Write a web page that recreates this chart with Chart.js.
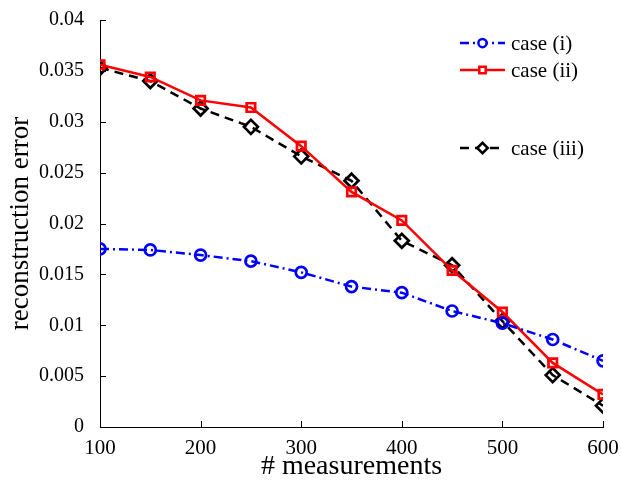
<!DOCTYPE html>
<html>
<head>
<meta charset="utf-8">
<script src="https://cdn.jsdelivr.net/npm/chart.js@4"></script>
<style>
  body { margin: 0; background: #fff; }
  #wrap { width: 621px; height: 483px; }
</style>
</head>
<body>
<div id="wrap"><canvas id="errChart" width="621" height="483"></canvas></div>
<script>
const measurements = [100, 150, 200, 250, 300, 350, 400, 450, 500, 550, 600];
const caseOne   = [0.0175, 0.0174, 0.0169, 0.0163, 0.0152, 0.0138, 0.0132, 0.0114, 0.0102, 0.0086, 0.0065];
const caseTwo   = [0.0356, 0.0344, 0.0321, 0.0314, 0.0276, 0.0231, 0.0203, 0.0154, 0.0113, 0.0063, 0.0032];
const caseThree = [0.0353, 0.0340, 0.0313, 0.0295, 0.0266, 0.0242, 0.0183, 0.0159, 0.0104, 0.0051, 0.0021];
const seriesLabels = ['case (i)', 'case (ii)', 'case (iii)'];
const legendRows = [43, 70, 148];

const serif = "'Liberation Serif', 'DejaVu Serif', serif";

function toPoints(vals) {
    return vals.map((v, i) => ({x: measurements[i], y: v}));
}

const datasets = [
    {label: seriesLabels[0], data: toPoints(caseOne), borderColor: '#0000ff', borderDash: [9, 4, 2, 4],
     pointStyle: 'circle', pointRadius: 5.5},
    {label: seriesLabels[1], data: toPoints(caseTwo), borderColor: '#ff0000', borderDash: [],
     pointStyle: 'rect', pointRadius: 6},
    {label: seriesLabels[2], data: toPoints(caseThree), borderColor: '#000000', borderDash: [9, 6],
     pointStyle: 'rectRot', pointRadius: 7}
].map(d => Object.assign(d, {
    showLine: true,
    borderWidth: 2.5,
    pointBorderColor: d.borderColor,
    pointBackgroundColor: '#ffffff00',
    pointBorderWidth: 2.7,
    fill: false,
    tension: 0
}));

// inward tick marks on left and bottom axes
const innerTicks = {
    id: 'innerTicks',
    afterDraw(chart) {
        const c = chart.ctx, xs = chart.scales.x, ys = chart.scales.y;
        c.save();
        c.strokeStyle = '#000';
        c.lineWidth = 1;
        c.beginPath();
        xs.ticks.forEach(t => {
            const p = Math.round(xs.getPixelForValue(t.value)) + 0.5;
            c.moveTo(p, ys.bottom); c.lineTo(p, ys.bottom - 6);
        });
        ys.ticks.forEach(t => {
            const p = Math.round(ys.getPixelForValue(t.value)) + 0.5;
            c.moveTo(xs.left, p); c.lineTo(xs.left + 6, p);
        });
        c.stroke();
        c.restore();
    }
};

// legend with a free row layout
const sideLegend = {
    id: 'sideLegend',
    afterDraw(chart) {
        const c = chart.ctx;
        c.save();
        chart.data.datasets.forEach((ds, i) => {
            const y = legendRows[i];
            c.strokeStyle = ds.borderColor;
            c.lineWidth = 2.5;
            c.setLineDash(ds.borderDash);
            c.beginPath();
            c.moveTo(460, y); c.lineTo(505, y);
            c.stroke();
            c.setLineDash([]);
            c.fillStyle = '#fff';
            Chart.helpers.drawPoint(c, {pointStyle: ds.pointStyle, radius: ds.pointRadius * 0.75,
                borderWidth: 2.7}, 482.5, y);
            c.fillStyle = '#000';
            c.font = '21px ' + serif;
            c.textBaseline = 'middle';
            c.fillText(ds.label, 511, y + 1);
        });
        c.restore();
    }
};

new Chart(document.getElementById('errChart'), {
    type: 'scatter',
    data: {datasets: datasets},
    plugins: [innerTicks, sideLegend],
    options: {
        responsive: false,
        animation: false,
        layout: {padding: {top: 9, right: 18, left: 0, bottom: 0}},
        plugins: {legend: {display: false}, tooltip: {enabled: false}},
        scales: {
            x: {
                type: 'linear', min: 100, max: 600,
                ticks: {stepSize: 100, color: '#000', font: {family: serif, size: 21}, padding: 1, maxRotation: 0},
                grid: {display: false},
                border: {display: true, color: '#000', width: 1},
                title: {display: true, text: '# measurements', color: '#000', font: {family: serif, size: 28}, padding: 0},
                afterFit(s) { s.height = 56; }
            },
            y: {
                min: 0, max: 0.04,
                ticks: {stepSize: 0.005, color: '#000', font: {family: serif, size: 20}, padding: 8,
                    callback: v => parseFloat(v.toFixed(3)).toString()},
                grid: {display: false},
                border: {display: true, color: '#000', width: 1},
                title: {display: true, text: 'reconstruction error', color: '#000', font: {family: serif, size: 27},
                    padding: {top: 5, bottom: 0}},
                afterFit(s) { s.width = 100; }
            }
        }
    }
});
</script>
</body>
</html>
